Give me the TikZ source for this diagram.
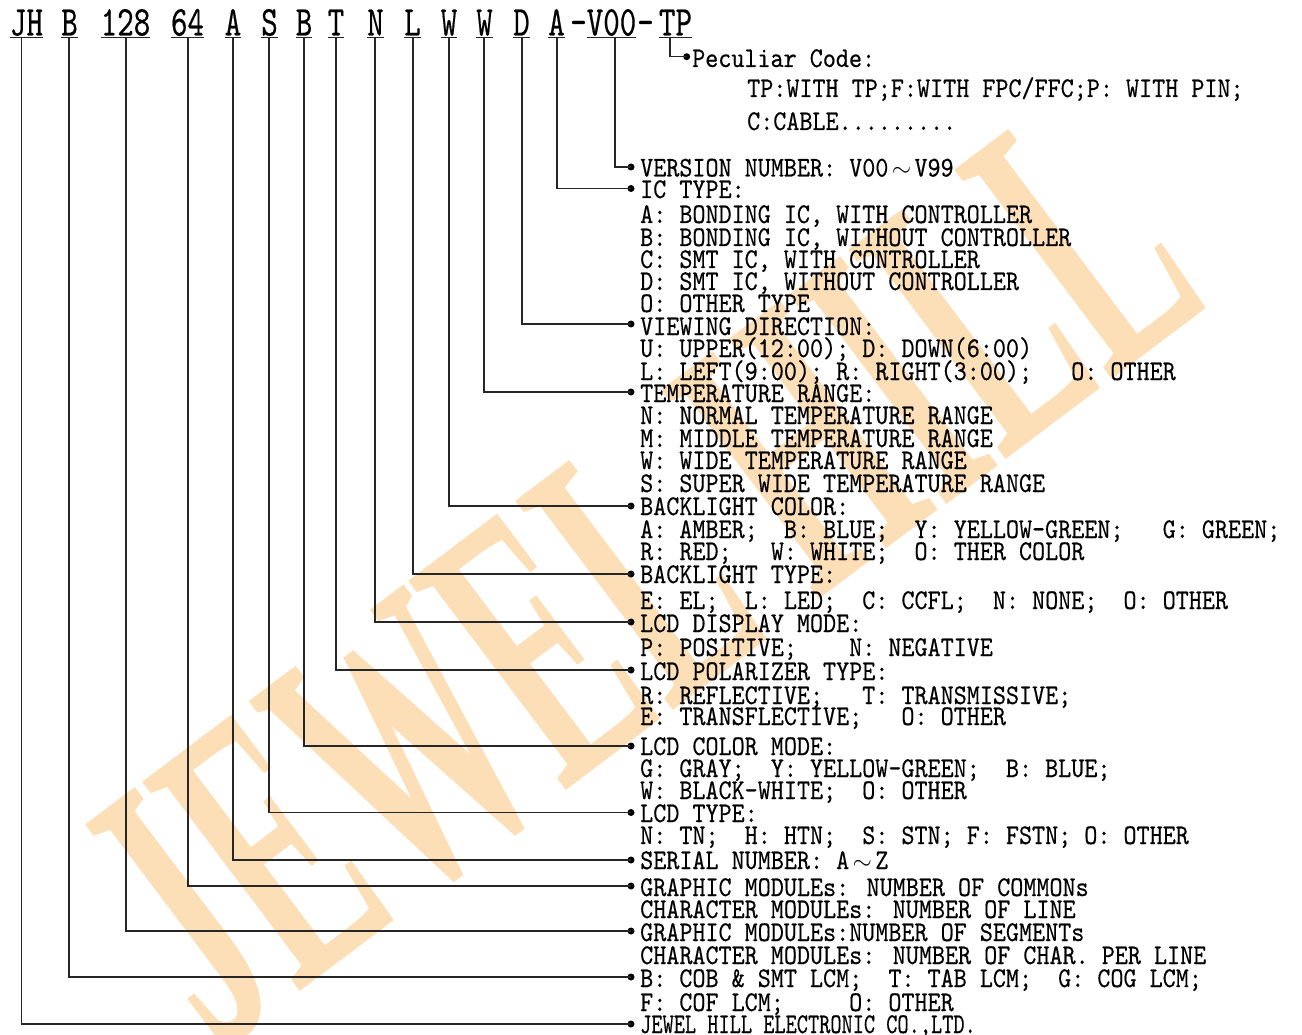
\documentclass[tikz,border=0pt]{standalone}
\usepackage{fontspec}
\newfontfamily\bodyf{lmmono10-regular.otf}[FakeStretch=0.87,FakeBold=0.35]
\newfontfamily\topf{lmmono10-regular.otf}[FakeStretch=0.74,FakeBold=0.35]
\newfontfamily\lastf{lmmono10-regular.otf}[FakeStretch=0.745,FakeBold=0.35]
\newfontfamily\wmf{Liberation Serif}[FakeStretch=0.5]
\newcommand\wtl{\makebox[26.1pt]{$\sim$}}
\definecolor{wmc}{RGB}{250,178,85}
\begin{document}
\begin{tikzpicture}[x=1pt,y=-1pt,
  txt/.style={anchor=base west, inner sep=0pt, font=\bodyf\fontsize{28.6pt}{30pt}\selectfont},
  lasttxt/.style={anchor=base west, inner sep=0pt, font=\lastf\fontsize{28.6pt}{30pt}\selectfont},
  top/.style={anchor=base, inner sep=0pt, font=\topf\fontsize{42.5pt}{44pt}\selectfont},
  conn/.style={line width=1.2pt, black!85},
  ul/.style={line width=1.2pt, black!85},
  dot/.style={circle, fill=black, inner sep=0pt, minimum size=7pt},
  wm/.style={inner sep=0pt, text=wmc, text opacity=0.42, font=\wmf\bfseries\fontsize{400pt}{400pt}\selectfont}]
\useasboundingbox (0,0) rectangle (1302,1035);
\fill[white] (0,0) rectangle (1302,1035);
\begin{scope}
\clip (0,0) rectangle (1302,1035);
\node[wm, rotate=37] (wmark) at (640,575) {JEWEL HILL};
\end{scope}

% top code row
\node[top] (gJH) at (26.5,35.5) {JH};
\node[top] (gB1) at (69.5,35.5) {B};
\node[top] (g128) at (125.5,35.5) {128};
\node[top] (g64) at (187.5,35.5) {64};
\node[top] (gA1) at (233,35.5) {A};
\node[top] (gS) at (269.5,35.5) {S};
\node[top] (gB2) at (304,35.5) {B};
\node[top] (gT) at (336,35.5) {T};
\node[top] (gN) at (375.5,35.5) {N};
\node[top] (gL) at (412.5,35.5) {L};
\node[top] (gW1) at (449,35.5) {W};
\node[top] (gW2) at (484.5,35.5) {W};
\node[top] (gD) at (521.5,35.5) {D};
\node[top] (gA2) at (556.5,35.5) {A};
\node[top] (gd1) at (578.5,35.5) {-};
\node[top] (gV) at (611.5,35.5) {V00};
\node[top] (gd2) at (645.5,35.5) {-};
\node[top] (gTP) at (675.5,35.5) {TP};
\foreach \g in {gJH,gB1,g128,g64,gA1,gS,gB2,gT,gN,gL,gW1,gW2,gD,gA2,gV,gTP}
  \draw[ul] ([yshift=-2.3pt]\g.base west) -- ([yshift=-2.3pt]\g.base east);

% connector start points
\coordinate (vJH) at (21.7,37.8);
\coordinate (vB1) at (69,37.8);
\coordinate (v128) at (126,37.8);
\coordinate (v64) at (188,37.8);
\coordinate (vA1) at (233,37.8);
\coordinate (vS) at (269,37.8);
\coordinate (vB2) at (304,37.8);
\coordinate (vT) at (336,37.8);
\coordinate (vN) at (375,37.8);
\coordinate (vL) at (413,37.8);
\coordinate (vW1) at (449,37.8);
\coordinate (vW2) at (484,37.8);
\coordinate (vD) at (522,37.8);
\coordinate (vA2) at (557,37.8);
\coordinate (vV) at (615,37.8);
\coordinate (vTP) at (670,37.8);

% bullets
\node[dot] (bTP) at (686.7,56.7) {};
\node[dot] (bV) at (631,167) {};
\node[dot] (bA2) at (631,188.5) {};
\node[dot] (bD) at (631,324) {};
\node[dot] (bW2) at (631,392) {};
\node[dot] (bW1) at (631,506) {};
\node[dot] (bL) at (631,574) {};
\node[dot] (bN) at (631,622) {};
\node[dot] (bT) at (631,670) {};
\node[dot] (bB2) at (631,746) {};
\node[dot] (bS) at (631,812.5) {};
\node[dot] (bA1) at (631,860) {};
\node[dot] (b64) at (631,886) {};
\node[dot] (b128) at (631,931) {};
\node[dot] (bB1) at (631,977) {};
\node[dot] (bJH) at (631,1024) {};

\foreach \k in {TP,V,A2,D,W2,W1,L,N,T,B2,S,A1,64,128,B1,JH}
  \draw[conn] (v\k) |- (b\k.center);

% texts
\node[txt] (pc0) at (692,67) {Peculiar Code:};
\node[txt] (pc1) at (747,97) {TP:WITH TP;F:WITH FPC/FFC;P: WITH PIN;};
\node[txt] (pc2) at (747,130) {C:CABLE.........};

\node[txt] (ver) at (640,176.5) {VERSION NUMBER: V00\wtl V99};
\node[txt] (ic0) at (640,198) {IC TYPE:};
\node[txt] (ic1) at (640,223) {A: BONDING IC, WITH CONTROLLER};
\node[txt] (ic2) at (640,246) {B: BONDING IC, WITHOUT CONTROLLER};
\node[txt] (ic3) at (640,268) {C: SMT IC, WITH CONTROLLER};
\node[txt] (ic4) at (640,290) {D: SMT IC, WITHOUT CONTROLLER};
\node[txt] (ic5) at (640,312) {O: OTHER TYPE};
\node[txt] (vd0) at (640,335) {VIEWING DIRECTION:};
\node[txt] (vd1) at (640,357) {U: UPPER(12:00); D: DOWN(6:00)};
\node[txt] (vd2) at (640,380) {L: LEFT(9:00); R: RIGHT(3:00);\ \ \ O: OTHER};
\node[txt] (tr0) at (640,402) {TEMPERATURE RANGE:};
\node[txt] (tr1) at (640,424) {N: NORMAL TEMPERATURE RANGE};
\node[txt] (tr2) at (640,447) {M: MIDDLE TEMPERATURE RANGE};
\node[txt] (tr3) at (640,469) {W: WIDE TEMPERATURE RANGE};
\node[txt] (tr4) at (640,492) {S: SUPER WIDE TEMPERATURE RANGE};
\node[txt] (bc0) at (640,515) {BACKLIGHT COLOR:};
\node[txt] (bc1) at (640,538) {A: AMBER;\ \ B: BLUE;\ \ Y: YELLOW-GREEN;\ \ \ G: GREEN;};
\node[txt] (bc2) at (640,560) {R: RED;\ \ \ W: WHITE;\ \ O: THER COLOR};
\node[txt] (bt0) at (640,583) {BACKLIGHT TYPE:};
\node[txt] (bt1) at (640,609) {E: EL;\ \ L: LED;\ \ C: CCFL;\ \ N: NONE;\ \ O: OTHER};
\node[txt] (dm0) at (640,632) {LCD DISPLAY MODE:};
\node[txt] (dm1) at (640,656) {P: POSITIVE;\ \ \ \ N: NEGATIVE};
\node[txt] (pt0) at (640,680) {LCD POLARIZER TYPE:};
\node[txt] (pt1) at (640,704) {R: REFLECTIVE;\ \ \ T: TRANSMISSIVE;};
\node[txt] (pt2) at (640,725) {E: TRANSFLECTIVE;\ \ \ O: OTHER};
\node[txt] (cm0) at (640,755) {LCD COLOR MODE:};
\node[txt] (cm1) at (640,777) {G: GRAY;\ \ Y: YELLOW-GREEN;\ \ B: BLUE;};
\node[txt] (cm2) at (640,799) {W: BLACK-WHITE;\ \ O: OTHER};
\node[txt] (lt0) at (640,822) {LCD TYPE:};
\node[txt] (lt1) at (640,844) {N: TN;\ \ H: HTN;\ \ S: STN; F: FSTN; O: OTHER};
\node[txt] (sn0) at (640,869) {SERIAL NUMBER: A\wtl Z};
\node[txt] (gm1) at (640,896) {GRAPHIC MODULEs: NUMBER OF COMMONs};
\node[txt] (gm2) at (640,918) {CHARACTER MODULEs: NUMBER OF LINE};
\node[txt] (gm3) at (640,941) {GRAPHIC MODULEs:NUMBER OF SEGMENTs};
\node[txt] (gm4) at (640,964) {CHARACTER MODULEs: NUMBER OF CHAR. PER LINE};
\node[txt] (pk1) at (640,987) {B: COB \& SMT LCM;\ \ T: TAB LCM;\ \ G: COG LCM;};
\node[txt] (pk2) at (640,1011) {F: COF LCM;\ \ \ \ \ O: OTHER};
\node[lasttxt] (co) at (640,1033) {JEWEL HILL ELECTRONIC CO.,LTD.};
\end{tikzpicture}
\end{document}
